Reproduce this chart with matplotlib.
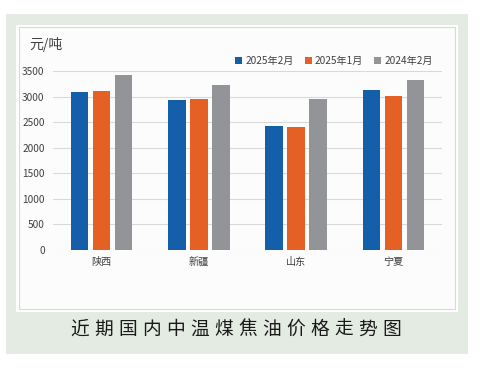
import matplotlib
matplotlib.use("Agg")
import matplotlib.pyplot as plt
import numpy as np
from matplotlib.patches import Rectangle

plt.rcParams['font.family'] = ['Noto Sans CJK SC', 'DejaVu Sans']

categories = ["陕西", "新疆", "山东", "宁夏"]
series_names = ["2025年2月", "2025年1月", "2024年2月"]
feb_2025 = [3080, 2940, 2425, 3120]
jan_2025 = [3100, 2950, 2410, 3010]
feb_2024 = [3430, 3225, 2950, 3320]
yticks = [0, 500, 1000, 1500, 2000, 2500, 3000, 3500]
unit_label = "元/吨"
title = "近期国内中温煤焦油价格走势图"

colors = ["#155FAA", "#E46025", "#929497"]

W, H = 481, 368
fig = plt.figure(figsize=(W / 100, H / 100), dpi=100)
fig.patch.set_facecolor("white")

def px_rect(x0, y0, x1, y1, **kw):
    return Rectangle((x0 / W, 1 - y1 / H), (x1 - x0) / W, (y1 - y0) / H,
                     transform=fig.transFigure, **kw)

fig.patches.append(px_rect(6, 14, 468, 354, facecolor="#E3EBE2", edgecolor="none", zorder=-3))
fig.patches.append(px_rect(16, 25, 458, 312, facecolor="white", edgecolor="none", zorder=-2))
fig.patches.append(px_rect(19, 27, 455, 309, facecolor="#FCFCFC", edgecolor="#D9D9D9", linewidth=0.8, zorder=-1))

ax = fig.add_axes([53 / W, 1 - 250 / H, (442 - 53) / W, (250 - 71) / H])
ax.set_zorder(1)
ax.set_facecolor("none")
x = np.arange(len(categories))
bw = 0.18
step = 0.226
for i, (vals, name) in enumerate(zip([feb_2025, jan_2025, feb_2024], series_names)):
    ax.bar(x + (i - 1) * step, vals, width=bw, color=colors[i], label=name, zorder=3)

ax.set_xlim(-0.5, len(categories) - 0.5)
ax.set_ylim(0, 3500)
ax.set_yticks(yticks)
ax.set_yticklabels([str(v) for v in yticks])
ax.set_xticks(x)
ax.set_xticklabels(categories)
ax.tick_params(axis='both', length=0, labelsize=7.3, colors="#404040")
ax.tick_params(axis='y', pad=6)
ax.tick_params(axis='x', pad=5)
for s in ax.spines.values():
    s.set_visible(False)
ax.grid(axis='y', color="#D9D9D9", linewidth=0.8, zorder=0)
ax.set_axisbelow(True)

fig.text(29 / W, 1 - 45 / H, unit_label, fontsize=10, color="#404040", va="center", ha="left")

leg = ax.legend(loc="lower right", bbox_to_anchor=(0.99, 1.0), ncol=3, frameon=False,
                fontsize=7.3, handlelength=0.7, handleheight=0.7, handletextpad=0.3,
                columnspacing=1.1, borderaxespad=0.1)
for t in leg.get_texts():
    t.set_color("#404040")

# title with wide letter spacing
x0, x1 = 80, 392
n = len(title)
for i, ch in enumerate(title):
    xc = x0 + (x1 - x0) * i / (n - 1)
    fig.text(xc / W, 1 - 329 / H, ch, fontsize=13.5, color="#1a1a1a", ha="center", va="center")

fig.savefig("out.png", dpi=100)
